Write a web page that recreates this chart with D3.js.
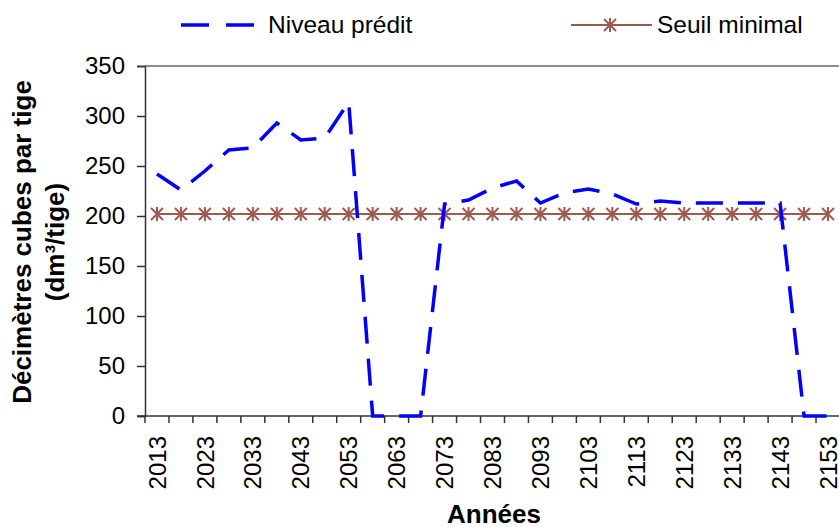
<!DOCTYPE html>
<html lang="fr">
<head>
  <meta charset="UTF-8">
  <title>Niveau prédit</title>
  <script src="https://d3js.org/d3.v7.min.js"></script>
  <style>
    body { margin: 0; background: #fff; }
    text { font-family: Arial, "Liberation Sans", sans-serif; fill: #000; }
    .tick text { font-size: 24px; }
    .title { font-size: 26px; font-weight: bold; }
    .legend text { font-size: 24.5px; }
  </style>
</head>
<body>
  <div id="chart"></div>

  <script>
    // Données (années par pas de 5)
    const annees = d3.range(2013, 2154, 5).map(String);
    const niveauPredit = [242, 226, 245, 266, 268, 293, 276, 278, 314, 0, 0, 0, 212, 216, 228, 235,
                          213, 223, 227, 222, 212, 215, 213, 213, 213, 213, 213, 0, 0];
    const seuilMinimal = annees.map(() => 202);
    const yTicks = [0, 50, 100, 150, 200, 250, 300, 350];

    const width = 839, height = 527;
    const mLeft = 145, mRight = 840, mTop = 66, mBottom = 416;

    const svg = d3.select("#chart").append("svg")
      .attr("width", width)
      .attr("height", height);

    const x = d3.scaleBand().domain(annees).range([mLeft, mRight]);
    const y = d3.scaleLinear().domain([0, 350]).range([mBottom, mTop]);
    const cx = d => x(d) + x.bandwidth() / 2;

    // bordure haute grise
    svg.append("line")
      .attr("x1", mLeft).attr("x2", mRight)
      .attr("y1", mTop).attr("y2", mTop)
      .attr("stroke", "#8c8c8c").attr("stroke-width", 2);

    // axe Y
    const yAxis = svg.append("g")
      .attr("transform", `translate(${mLeft},0)`)
      .call(d3.axisLeft(y).tickValues(yTicks).tickSize(8).tickPadding(12));
    yAxis.select(".domain").attr("stroke", "#333").attr("stroke-width", 1.5);
    yAxis.selectAll(".tick line").attr("stroke", "#333").attr("stroke-width", 1.5);

    // axe X (catégories, étiquettes une sur deux)
    const xAxis = svg.append("g")
      .attr("transform", `translate(0,${mBottom})`)
      .call(d3.axisBottom(x).tickValues(annees.filter((d, i) => i % 2 === 0)).tickSize(0));
    xAxis.select(".domain").remove();
    xAxis.selectAll(".tick text")
      .attr("transform", "rotate(-90)")
      .attr("text-anchor", "end")
      .attr("x", -20)
      .attr("y", 0)
      .attr("dy", "0.36em");
    svg.append("line")
      .attr("x1", mLeft - 8).attr("x2", mRight)
      .attr("y1", mBottom).attr("y2", mBottom)
      .attr("stroke", "#333").attr("stroke-width", 1.5);
    svg.append("g").selectAll("line")
      .data(annees.concat(["fin"]))
      .join("line")
      .attr("x1", d => d === "fin" ? mRight : x(d))
      .attr("x2", d => d === "fin" ? mRight : x(d))
      .attr("y1", mBottom).attr("y2", mBottom + 7)
      .attr("stroke", "#333").attr("stroke-width", 1.5);

    // série seuil minimal
    const brun = "#9e5a50";
    svg.append("path")
      .datum(seuilMinimal)
      .attr("fill", "none")
      .attr("stroke", brun)
      .attr("stroke-width", 2)
      .attr("d", d3.line().x((d, i) => cx(annees[i])).y(d => y(d)));

    function etoile(g, px, py, s) {
      const h = s / 2;
      g.append("path")
        .attr("d", `M${px - h},${py - h}L${px + h},${py + h}M${px - h},${py + h}L${px + h},${py - h}M${px},${py - h - 1}L${px},${py + h + 1}`)
        .attr("stroke", brun).attr("stroke-width", 2).attr("fill", "none");
    }
    const marques = svg.append("g");
    seuilMinimal.forEach((v, i) => etoile(marques, cx(annees[i]), y(v), 12));

    // série niveau prédit
    svg.append("path")
      .datum(niveauPredit)
      .attr("fill", "none")
      .attr("stroke", "#0000ff")
      .attr("stroke-width", 3.5)
      .attr("stroke-dasharray", "27,15")
      .attr("d", d3.line().x((d, i) => cx(annees[i])).y(d => y(d)));

    // titres
    svg.append("text")
      .attr("class", "title")
      .attr("text-anchor", "middle")
      .attr("x", 494).attr("y", 523)
      .text("Années");

    const yt = svg.append("text")
      .attr("class", "title")
      .attr("text-anchor", "middle")
      .attr("transform", "translate(31,242) rotate(-90)");
    yt.append("tspan").attr("x", 0).attr("dy", 0).text("Décimètres cubes par tige");
    yt.append("tspan").attr("x", 0).attr("dy", 33).text("(dm³/tige)");

    // légende
    const leg = svg.append("g").attr("class", "legend");
    leg.append("line")
      .attr("x1", 181).attr("x2", 254).attr("y1", 25).attr("y2", 25)
      .attr("stroke", "#0000ff").attr("stroke-width", 3.5)
      .attr("stroke-dasharray", "28,17");
    leg.append("text").attr("x", 268).attr("y", 33).text("Niveau prédit");
    leg.append("line")
      .attr("x1", 571).attr("x2", 652).attr("y1", 25).attr("y2", 25)
      .attr("stroke", brun).attr("stroke-width", 2);
    etoile(leg, 610, 25, 12);
    leg.append("text").attr("x", 657).attr("y", 33).text("Seuil minimal");
  </script>
</body>
</html>
